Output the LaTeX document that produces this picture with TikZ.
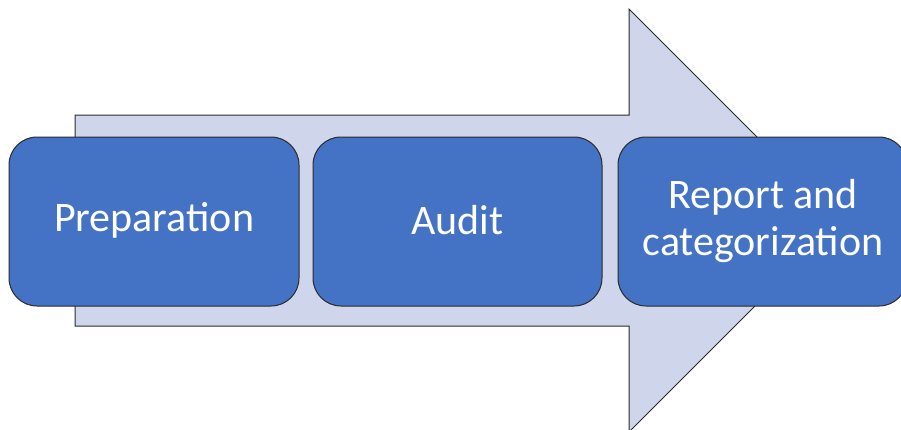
\documentclass[tikz,border=0pt]{standalone}
\usepackage{fontspec}
\setmainfont{Carlito}
\definecolor{boxblue}{HTML}{4472C4}
\definecolor{arrowfill}{HTML}{CFD5EA}
\definecolor{edgegray}{HTML}{2B2B2B}
\begin{document}
\begin{tikzpicture}[x=1pt,y=-1pt,
  stage/.style={draw=edgegray, line width=1pt, fill=boxblue, rounded corners=28pt},
  stagetext/.style={text=white, font=\fontsize{42}{47}\selectfont, align=center}]
\useasboundingbox (0,0) rectangle (901,429);
\clip (0,0) rectangle (901,429);
\draw[fill=arrowfill, draw=edgegray, line width=1pt]
  (75,115) -- (629,115) -- (629,9) -- (840.5,220.5) -- (629,432) -- (629,326) -- (75,326) -- cycle;
\draw[stage] (9,137) rectangle (299,306);
\draw[stage] (313,137) rectangle (602,306);
\draw[stage] (618,137) rectangle (907,306);
\node[stagetext] (prep) at (154,220) {Preparation};
\node[stagetext] (audit) at (457.5,220) {Audit};
\node[stagetext] (report) at (763,221) {Report and\\categorization};
\end{tikzpicture}
\end{document}
